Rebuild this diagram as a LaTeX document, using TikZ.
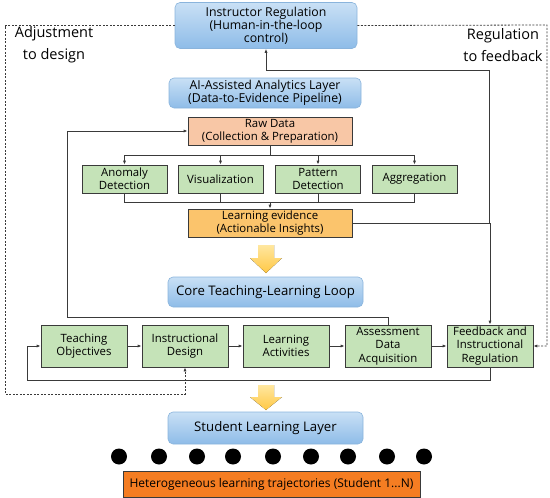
\documentclass[tikz,border=0pt]{standalone}
\usepackage{fontspec}
\setmainfont{Open Sans}
\usetikzlibrary{arrows.meta}
\definecolor{blueT}{HTML}{C9E0F5}
\definecolor{blueB}{HTML}{8EBCE8}
\definecolor{blueD}{HTML}{8AB4DC}
\definecolor{greenF}{HTML}{C5E3B8}
\definecolor{lineC}{HTML}{3A3A3A}
\definecolor{rawF}{HTML}{F8C7A6}
\definecolor{evF}{HTML}{FBC46C}
\definecolor{arrT}{HTML}{FFE7A0}
\definecolor{arrB}{HTML}{FFC845}
\definecolor{orF}{HTML}{F57D22}
\begin{document}
\begin{tikzpicture}[x=1pt,y=-1pt,
  bluebox/.style={rounded corners=5pt, top color=blueT, bottom color=blueB, draw=blueD, line width=0.6pt, align=center, inner sep=0pt, font=\fontsize{12.3}{13}\selectfont},
  greenbox/.style={fill=greenF, draw=lineC, line width=0.8pt, align=center, inner sep=0pt, minimum width=85pt, font=\fontsize{11.4}{13.4}\selectfont},
  flatbox/.style={draw=lineC, line width=0.8pt, align=center, inner sep=0pt, font=\fontsize{11.4}{13}\selectfont},
  conn/.style={draw=lineC, line width=0.8pt, -{Latex[length=4pt,width=3.2pt]}},
  plain/.style={draw=lineC, line width=0.8pt},
  dconn/.style={draw=lineC, line width=0.8pt, dash pattern=on 2pt off 1.5pt, -{Latex[length=4pt,width=3.2pt]}},
  bigarrow/.style={top color=arrT, bottom color=arrB, draw=none},
  sidetext/.style={align=center, font=\fontsize{14.5}{22}\selectfont, inner sep=0pt}
]
\useasboundingbox (0,0) rectangle (550,498);

% top blue boxes
\node[bluebox, minimum width=182pt, minimum height=46pt] (ins) at (266,25.5) {Instructor Regulation\\(Human-in-the-loop\\control)};
\node[bluebox, minimum width=192pt, minimum height=30pt] (ai) at (265,93) {AI-Assisted Analytics Layer\\(Data-to-Evidence Pipeline)};

% side texts
\node[sidetext] (adj) at (54,45) {Adjustment\\to design};
\node[sidetext] (reg) at (503,45) {Regulation\\to feedback};

% pipeline
\node[flatbox, fill=rawF, minimum width=164pt, minimum height=28pt] (raw) at (270,131) {Raw Data\\(Collection \& Preparation)};
\node[greenbox, minimum height=28pt] (ano) at (124.5,179) {Anomaly\\Detection};
\node[greenbox, minimum height=28pt] (vis) at (220.5,179) {Visualization};
\node[greenbox, minimum height=28pt] (pat) at (318,179) {Pattern\\Detection};
\node[greenbox, minimum height=28pt] (agg) at (414.5,179) {Aggregation};
\node[flatbox, fill=evF, minimum width=164pt, minimum height=28pt] (ev) at (270,223) {Learning evidence\\(Actionable Insights)};

% core
\node[bluebox, minimum width=195pt, minimum height=30pt, font=\fontsize{13.2}{14}\selectfont] (core) at (265.5,292) {Core Teaching-Learning Loop};

% bottom row
\node[greenbox, minimum width=86pt, minimum height=42pt] (tob) at (84,346) {Teaching\\Objectives};
\node[greenbox, minimum width=86pt, minimum height=42pt] (ind) at (185,346) {Instructional\\Design};
\node[greenbox, minimum width=86pt, minimum height=42pt] (lac) at (286,346) {Learning\\Activities};
\node[greenbox, minimum width=86pt, minimum height=42pt] (ada) at (388,346) {Assessment\\Data\\Acquisition};
\node[greenbox, minimum width=86pt, minimum height=42pt] (fbr) at (490,346) {Feedback and\\Instructional\\Regulation};

% student layer
\node[bluebox, minimum width=195pt, minimum height=32pt, font=\fontsize{13.2}{14}\selectfont] (stu) at (265.5,428) {Student Learning Layer};
\node[flatbox, fill=orF, minimum width=297pt, minimum height=26pt, font=\fontsize{12}{13}\selectfont] (het) at (271.5,484) {Heterogeneous learning trajectories (Student 1...N)};
\foreach \i/\xx in {1/119,2/159,3/197,4/233,5/273,6/311,7/348,8/387,9/424}
  \fill (\xx,456.5) circle (8pt);

% big yellow arrows
\fill[bigarrow] (258,245) -- (274,245) -- (274,258) -- (282,258) -- (266,273) -- (250,258) -- (258,258) -- cycle;
\fill[bigarrow] (258,385) -- (274,385) -- (274,397) -- (282,397) -- (266,410) -- (250,397) -- (258,397) -- cycle;

% coordinates
\coordinate (rb) at (270,155);
\coordinate (mb) at (270,202);
\coordinate (jt) at (489,70);
\coordinate (jl) at (67,317);
\coordinate (fl) at (27,380);
\coordinate (dl) at (5,394);
\coordinate (dr) at (547,25);

% raw data branch
\draw[plain] (raw.south) -- (rb);
\draw[conn] (rb) -| (ano.north);
\draw[conn] (rb) -| (vis.north);
\draw[conn] (rb) -| (pat.north);
\draw[conn] (rb) -| (agg.north);
% merge
\draw[plain] (ano.south) |- (mb);
\draw[plain] (vis.south) |- (mb);
\draw[plain] (pat.south) |- (mb);
\draw[plain] (agg.south) |- (mb);
\draw[conn] (mb) -- (ev.north);

% evidence to feedback and instructor
\draw[conn] (ev.east) -| (fbr.north);
\draw[conn] (ev.east -| jt) -- (jt) -| (ins.south);

% assessment back to raw data
\draw[conn] (ada.north) |- (jl) |- (raw.west);

% bottom row
\draw[conn] (tob) -- (ind);
\draw[conn] (ind) -- (lac);
\draw[conn] (lac) -- (ada);
\draw[conn] (ada) -- (fbr);
\draw[conn] (fbr.south) |- (fl) |- (tob.west);

% dashed regulation
\draw[dconn] (ins.west) -| (dl) -| (ind.south);
\draw[dconn] (ins.east) -- (dr) |- (fbr.east);
\end{tikzpicture}
\end{document}
